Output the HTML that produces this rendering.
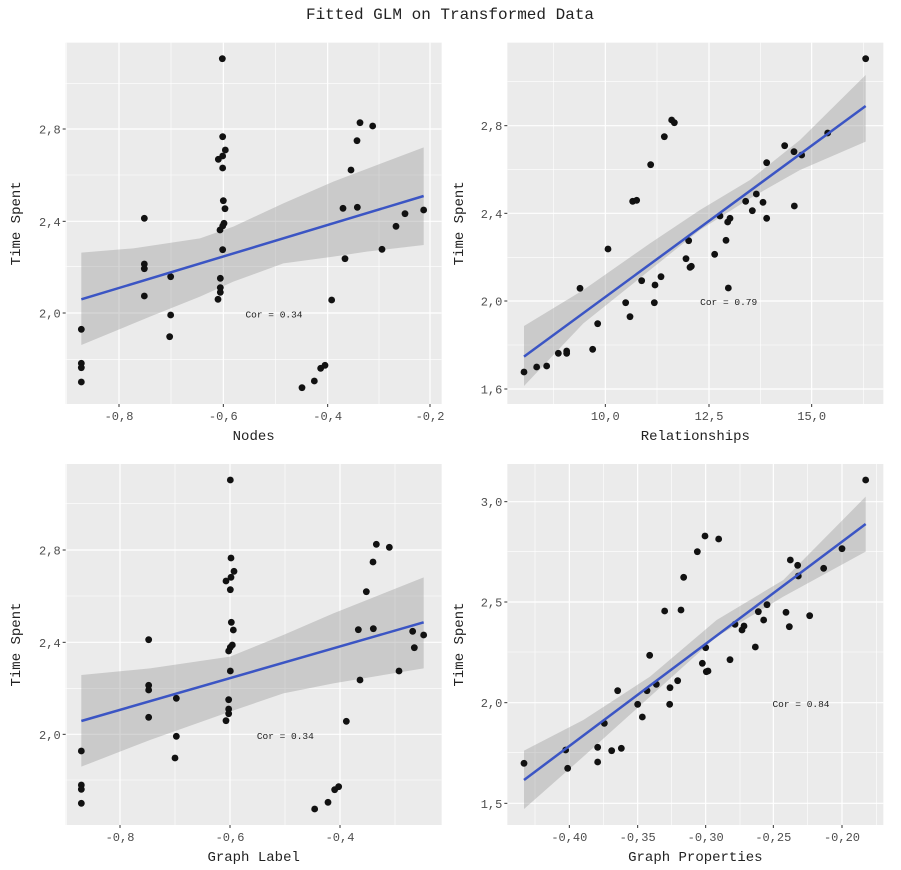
<!DOCTYPE html>
<html><head><meta charset="utf-8"><style>
body{margin:0;background:#fff;width:901px;height:870px;overflow:hidden}
svg{display:block}
text{font-family:"Liberation Mono","DejaVu Sans Mono",monospace}
</style></head><body>
<svg id="s" width="901" height="870" xmlns="http://www.w3.org/2000/svg">
<text x="450" y="19" text-anchor="middle" font-size="16" fill="#222">Fitted GLM on Transformed Data</text>
</svg>
<script>
const NS="http://www.w3.org/2000/svg",S=document.getElementById('s');
function el(t,a,txt){const e=document.createElementNS(NS,t);for(const k in a)e.setAttribute(k,a[k]);if(txt!==undefined)e.textContent=txt;S.appendChild(e);return e;}
const P=[
{ox:0,oy:30,px:[197,1325],py:[38,1122],yt:[[297,'2.8'],[574,'2.4'],[849,'2.0']],ym:[160,435,710,988],xt:[[357,'-0.8'],[670,'-0.6'],[983,'-0.4'],[1290,'-0.2']],xm:[200,513,826,1137],xl:'Nodes',
pts:[[667,86],[244,898],[244,1000],[244,1013],[244,1056],[433,565],[433,702],[433,716],[433,798],[512,740],[512,855],[509,920],[668,320],[676,360],[668,378],[655,388],[668,414],[670,512],[675,536],[672,580],[668,588],[660,600],[668,659],[661,745],[661,773],[661,787],[654,808],[1080,278],[1118,288],[1071,332],[1053,420],[1029,535],[1072,532],[1035,686],[995,810],[906,1073],[943,1053],[962,1015],[975,1006],[1146,658],[1188,589],[1215,551],[1271,540]],
line:[244,808,1271,498],up:[[244,668],[400,655],[600,625],[700,590],[850,520],[1000,455],[1271,352]],lo:[[1271,645],[1100,665],[1000,680],[850,700],[700,755],[600,800],[450,860],[244,945]],cor:[822,852,'Cor = 0.34']},
{ox:450,oy:30,px:[172,1300],py:[38,1122],yt:[[287,'2.8'],[550,'2.4'],[813,'2.0'],[1077,'1.6']],ym:[155,418,682,945],xt:[[466,'10.0'],[777,'12.5'],[1085,'15.0']],xm:[310,621,931,1240],xl:'Relationships',
pts:[[1247,86],[222,1026],[260,1011],[290,1008],[325,970],[350,963],[350,970],[428,958],[443,881],[390,775],[474,657],[527,818],[540,860],[575,752],[613,818],[615,765],[633,740],[548,514],[560,511],[602,404],[643,320],[665,270],[673,278],[708,686],[716,632],[720,712],[724,709],[794,673],[810,558],[828,631],[835,774],[833,576],[840,565],[887,514],[907,542],[919,492],[939,517],[950,565],[950,398],[1004,347],[1032,365],[1055,375],[1033,528],[1133,309]],
line:[222,980,1247,228],up:[[222,888],[400,780],[600,640],[750,540],[900,450],[1050,330],[1247,135]],lo:[[1247,335],[1050,420],[900,505],[750,600],[600,720],[400,880],[222,1068]],cor:[836,815,'Cor = 0.79']},
{ox:0,oy:450,px:[197,1325],py:[42,1125],yt:[[300,'2.8'],[577,'2.4'],[853,'2.0']],ym:[160,438,715,990],xt:[[360,'-0.8'],[690,'-0.6'],[1020,'-0.4']],xm:[200,525,855,1185],xl:'Graph Label',
pts:[[691,90],[244,903],[244,1005],[244,1018],[244,1060],[446,569],[446,706],[446,720],[446,802],[529,745],[529,859],[525,924],[693,324],[702,364],[693,382],[678,393],[691,419],[694,517],[700,540],[697,585],[691,592],[686,603],[691,663],[686,749],[686,777],[686,791],[678,812],[1129,283],[1168,292],[1119,336],[1099,425],[1075,539],[1120,536],[1080,690],[1039,814],[944,1077],[984,1057],[1004,1019],[1016,1010],[1197,663],[1243,593],[1238,544],[1271,555]],
line:[244,813,1271,517],up:[[244,675],[450,655],[690,620],[850,555],[1000,490],[1271,382]],lo:[[1271,655],[1000,700],[850,730],[690,785],[450,870],[244,950]],cor:[856,856,'Cor = 0.34']},
{ox:450,oy:450,px:[172,1300],py:[42,1125],yt:[[155,'3.0'],[456,'2.5'],[758,'2.0'],[1060,'1.5']],ym:[305,606,908],xt:[[358,'-0.40'],[563,'-0.35'],[767,'-0.30'],[970,'-0.25'],[1176,'-0.20']],xm:[255,460,665,870,1073,1280],xl:'Graph Properties',
pts:[[1247,90],[222,940],[347,900],[353,955],[443,892],[443,936],[463,820],[485,902],[514,895],[503,722],[563,763],[577,801],[591,722],[619,703],[599,616],[644,483],[659,763],[660,713],[683,692],[693,480],[701,382],[742,305],[765,258],[806,267],[757,640],[767,593],[769,665],[774,663],[840,629],[855,523],[876,540],[882,528],[916,591],[925,485],[941,510],[951,464],[1008,487],[1018,530],[1021,330],[1043,346],[1045,378],[1079,497],[1121,355],[1176,296]],
line:[222,990,1247,222],up:[[222,902],[400,810],[600,680],[800,510],[1000,390],[1247,140]],lo:[[1247,305],[1000,440],[800,560],[600,740],[400,920],[222,1077]],cor:[1053,760,'Cor = 0.84']}
];
for(const p of P){
 const X=v=>v/3+p.ox,Y=v=>v/3+p.oy;
 const x0=X(p.px[0]),x1=X(p.px[1]),y0=Y(p.py[0]),y1=Y(p.py[1]);
 el('rect',{x:x0,y:y0,width:x1-x0,height:y1-y0,fill:'#ebebeb'});
 for(const m of p.ym)el('line',{x1:x0,x2:x1,y1:Y(m),y2:Y(m),stroke:'#fff','stroke-width':0.6});
 for(const m of p.xm)el('line',{y1:y0,y2:y1,x1:X(m),x2:X(m),stroke:'#fff','stroke-width':0.6});
 for(const [v,l] of p.yt){el('line',{x1:x0,x2:x1,y1:Y(v),y2:Y(v),stroke:'#fff','stroke-width':1.2});
  el('line',{x1:x0-3,x2:x0,y1:Y(v),y2:Y(v),stroke:'#333','stroke-width':1});
  el('text',{x:x0-5,y:Y(v)+4.5,'text-anchor':'end','font-size':12,fill:'#4d4d4d'},l.replace('.',','));}
 for(const [v,l] of p.xt){el('line',{y1:y0,y2:y1,x1:X(v),x2:X(v),stroke:'#fff','stroke-width':1.2});
  el('line',{y1:y1,y2:y1+3,x1:X(v),x2:X(v),stroke:'#333','stroke-width':1});
  el('text',{x:X(v),y:y1+16,'text-anchor':'middle','font-size':12,fill:'#4d4d4d'},l.replace('.',','));}
 const band=p.up.concat(p.lo).map(q=>X(q[0])+','+Y(q[1])).join(' ');
 el('polygon',{points:band,fill:'#999','fill-opacity':0.4});
 for(const q of p.pts)el('circle',{cx:X(q[0]),cy:Y(q[1]),r:3.4,fill:'#111'});
 el('line',{x1:X(p.line[0]),y1:Y(p.line[1]),x2:X(p.line[2]),y2:Y(p.line[3]),stroke:'#3b55c4','stroke-width':2.5});
 el('text',{x:X(p.cor[0]),y:Y(p.cor[1])+3.5,'text-anchor':'middle','font-size':9.5,fill:'#222'},p.cor[2]);
 el('text',{x:(x0+x1)/2,y:y1+36,'text-anchor':'middle','font-size':14,fill:'#222'},p.xl);
 const ly=(y0+y1)/2, lx=p.ox+(p.ox?13:20);
 el('text',{x:lx,y:ly,'text-anchor':'middle','font-size':14,fill:'#222',transform:`rotate(-90 ${lx} ${ly})`},'Time Spent');
}
</script>
</body></html>
